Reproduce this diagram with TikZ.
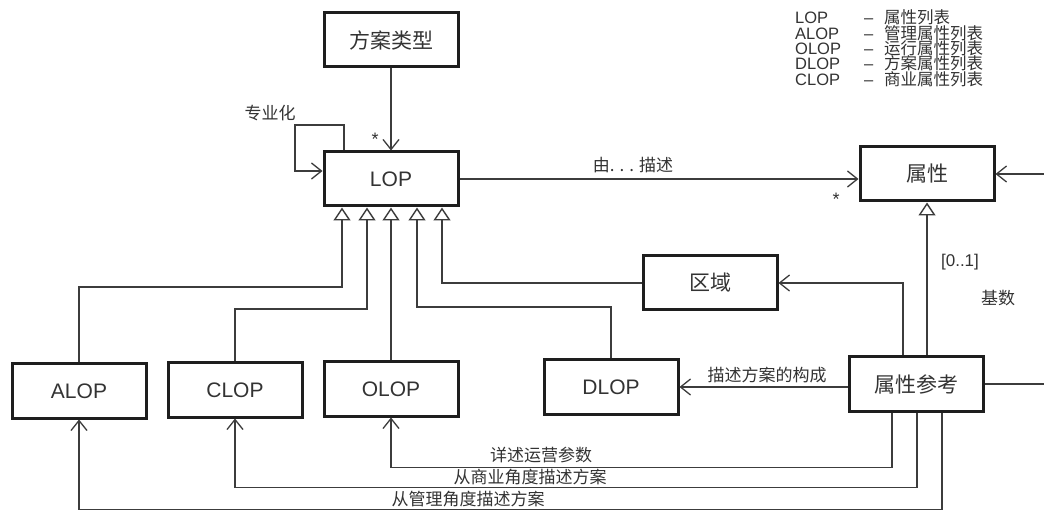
\documentclass[tikz,border=0pt]{standalone}
\usepackage{fontspec}
\setmainfont{Liberation Sans}
\newfontfamily\cjk{Noto Sans CJK SC}
\usetikzlibrary{arrows.meta}
\definecolor{ink}{HTML}{333333}
\definecolor{edge}{HTML}{1E1E1E}
\definecolor{wire}{HTML}{3C3C3C}
\newcommand{\legrow}[2]{\makebox[69pt][l]{#1}\makebox[20pt][l]{–}{\cjk #2}}
\tikzset{
  box/.style={draw=edge, line width=3pt, fill=white, text=ink, minimum width=134pt, minimum height=54pt, inner sep=0pt, font=\fontsize{21}{24}\selectfont},
  wire/.style={draw=wire, line width=1.3pt},
  barb/.style={wire, -{Straight Barb[length=10pt,width=16pt,line width=1.3pt]}},
  inh/.style={wire, -{Triangle[open,length=13pt,width=17pt,line width=1.4pt]}},
  lbl/.style={text=ink, inner sep=0pt, font=\fontsize{17}{20}\selectfont\cjk},
  leg/.style={text=ink, inner sep=0pt, anchor=base west, text height=11pt, text depth=2.5pt, font=\fontsize{16.5}{16}\selectfont},
}
\begin{document}
\begin{tikzpicture}[x=1pt,y=-1pt]
\clip (0,0) rectangle (1044,518);
\fill[white] (0,0) rectangle (1044,518);

% nodes
\node[box] (fa) at (391,40) {\cjk 方案类型};
\node[box] (lop) at (391,179) {LOP};
\node[box] (attr) at (927,174) {\cjk 属性};
\node[box] (area) at (710,283) {\cjk 区域};
\node[box] (alop) at (79,391) {ALOP};
\node[box] (clop) at (235,390) {CLOP};
\node[box] (olop) at (391,389) {OLOP};
\node[box] (dlop) at (611,387) {DLOP};
\node[box] (ref) at (916,384) {\cjk 属性参考};

% legend
\node[leg] (l1) at (795,24) {\legrow{LOP}{属性列表}};
\node[leg] (l2) at (795,39.3) {\legrow{ALOP}{管理属性列表}};
\node[leg] (l3) at (795,54.6) {\legrow{OLOP}{运行属性列表}};
\node[leg] (l4) at (795,69.9) {\legrow{DLOP}{方案属性列表}};
\node[leg] (l5) at (795,85.2) {\legrow{CLOP}{商业属性列表}};

% top connectors
\draw[barb] (fa.south) -- (lop.north);
\node[text=ink, font=\fontsize{18}{18}\selectfont] (s1) at (375,139) {*};
\draw[barb] ([xshift=-47pt]lop.north) |- (295,125) |- ([yshift=8pt]lop.west);
\node[lbl] (spec) at (270,113) {专业化};

% LOP -> attr
\draw[barb] (lop.east) -- (lop.east -| attr.west);
\node[lbl] (desc) at (633,165) {由. . . 描述};
\node[text=ink, font=\fontsize{18}{18}\selectfont] (s2) at (836,199) {*};

% inheritance to LOP
\draw[inh] (alop.north) |- (342,287) -- ([xshift=-49pt]lop.south);
\draw[inh] (clop.north) |- (367,309) -- ([xshift=-24pt]lop.south);
\draw[inh] (olop.north) -- (lop.south);
\draw[inh] (dlop.north) |- (417,307) -- ([xshift=26pt]lop.south);
\draw[inh] (area.west) -| ([xshift=51pt]lop.south);

% attribute reference
\draw[inh] (attr.south |- ref.north) -- (attr.south);
\node[text=ink, inner sep=0pt, font=\fontsize{17}{17}\selectfont] (card) at (960,262) {[0..1]};
\node[lbl] (base) at (998,298) {基数};
\draw[barb] ([xshift=-13pt]ref.north) |- (area.east);
\draw[barb] (ref.west |- dlop.east) -- (dlop.east);
\node[lbl] (comp) at (767,375) {描述方案的构成};
\draw[barb] (ref.east) -- ++(90,0) |- (attr.east);

% bottom connectors
\draw[barb] ([xshift=-24pt]ref.south) |- ([yshift=-50pt]olop.south) -- (olop.south);
\node[lbl] (t1) at (541,455) {详述运营参数};
\draw[barb] ([xshift=1pt]ref.south) |- ([yshift=-69pt]clop.south) -- (clop.south);
\node[lbl] (t2) at (530,477) {从商业角度描述方案};
\draw[barb] ([xshift=26pt]ref.south) |- ([yshift=-90pt]alop.south) -- (alop.south);
\node[lbl] (t3) at (468,499) {从管理角度描述方案};
\end{tikzpicture}
\end{document}
